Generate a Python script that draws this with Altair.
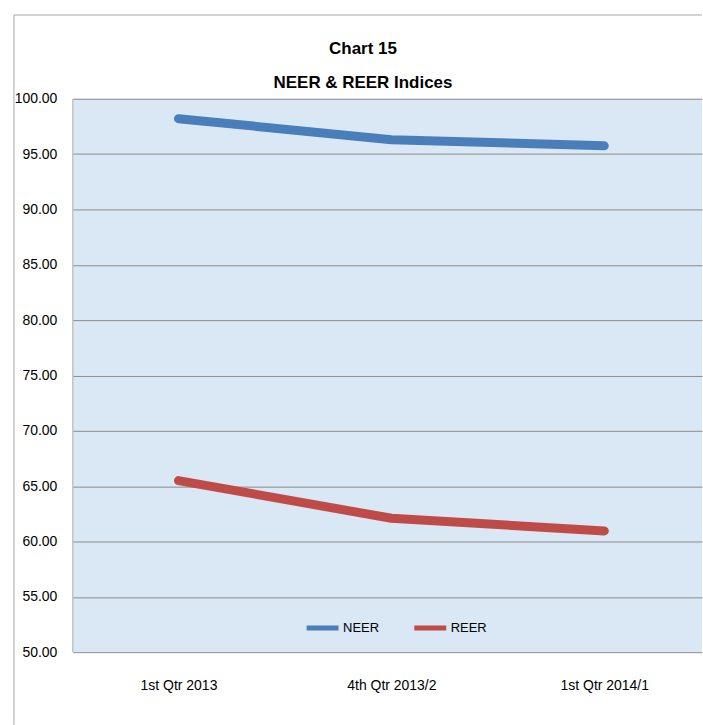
import altair as alt
import pandas as pd

categories = ["1st Qtr 2013", "4th Qtr 2013/2", "1st Qtr 2014/1"]
neer = [98.2, 96.3, 95.75]
reer = [65.5, 62.1, 60.95]
series_names = ["NEER", "REER"]
colors = ["#4a7ebb", "#be4b48"]
title_lines = ["Chart 15", "NEER & REER Indices"]

rows = []
for name, vals in zip(series_names, [neer, reer]):
    for i, (c, v) in enumerate(zip(categories, vals)):
        rows.append({"Pos": i, "Quarter": c, "Index": v, "Series": name})
df = pd.DataFrame(rows)

FONT = "Liberation Sans"
W, H = 631, 555

label_expr = "[" + ",".join("'" + c + "'" for c in categories) + "][datum.value]"

lines = alt.Chart(df).mark_line(strokeWidth=9, strokeCap="round", strokeJoin="round").encode(
    x=alt.X("Pos:Q",
            scale=alt.Scale(domain=[-0.4965, 2.4590], nice=False, zero=False),
            axis=alt.Axis(title=None, values=[0, 1, 2], labelExpr=label_expr,
                          labelAngle=0, ticks=False, domain=False, grid=False,
                          labelFont=FONT, labelFontSize=14, labelColor="#000000",
                          labelPadding=26)),
    y=alt.Y("Index:Q", scale=alt.Scale(domain=[50, 100], nice=False, zero=False),
            axis=alt.Axis(title=None, values=list(range(50, 101, 5)), format=".2f",
                          ticks=False, domain=False, grid=True, gridColor="#8c8c8c",
                          gridWidth=1, labelFont=FONT, labelFontSize=14,
                          labelColor="#000000", labelPadding=16)),
    color=alt.Color("Series:N", sort=series_names,
                    scale=alt.Scale(domain=series_names, range=colors),
                    legend=alt.Legend(title=None, orient="none", legendX=232, legendY=512,
                                      direction="horizontal", symbolType="stroke",
                                      symbolSize=1024, symbolStrokeWidth=5,
                                      labelFont=FONT, labelFontSize=13, labelColor="#000000",
                                      labelOffset=2, columnPadding=24)),
)

border_top = alt.Chart().mark_rule(color="#a6a6a6", strokeWidth=1).encode(
    x=alt.value(-59), x2=alt.value(W), y=alt.value(-84))
border_left = alt.Chart().mark_rule(color="#a6a6a6", strokeWidth=1).encode(
    x=alt.value(-59), y=alt.value(-84), y2=alt.value(628))
plot_left = alt.Chart().mark_rule(color="#b0b0b0", strokeWidth=1).encode(
    x=alt.value(0), y=alt.value(0), y2=alt.value(H))

title1 = alt.Chart().mark_text(font=FONT, fontSize=17, fontWeight="bold", color="#000000",
                               align="center", baseline="alphabetic").encode(
    x=alt.value(291), y=alt.value(-45), text=alt.value(title_lines[0]))
title2 = alt.Chart().mark_text(font=FONT, fontSize=17, fontWeight="bold", color="#000000",
                               align="center", baseline="alphabetic").encode(
    x=alt.value(291), y=alt.value(-11), text=alt.value(title_lines[1]))

chart = alt.layer(border_top, border_left, plot_left, title1, title2, lines).properties(
    width=W, height=H,
    padding={"left": 13, "top": 13, "right": 0, "bottom": 0},
    background="#ffffff",
).configure_view(fill="#dae7f5", strokeWidth=0)

chart.save("out.html", embed_options={"renderer": "svg", "actions": False})
